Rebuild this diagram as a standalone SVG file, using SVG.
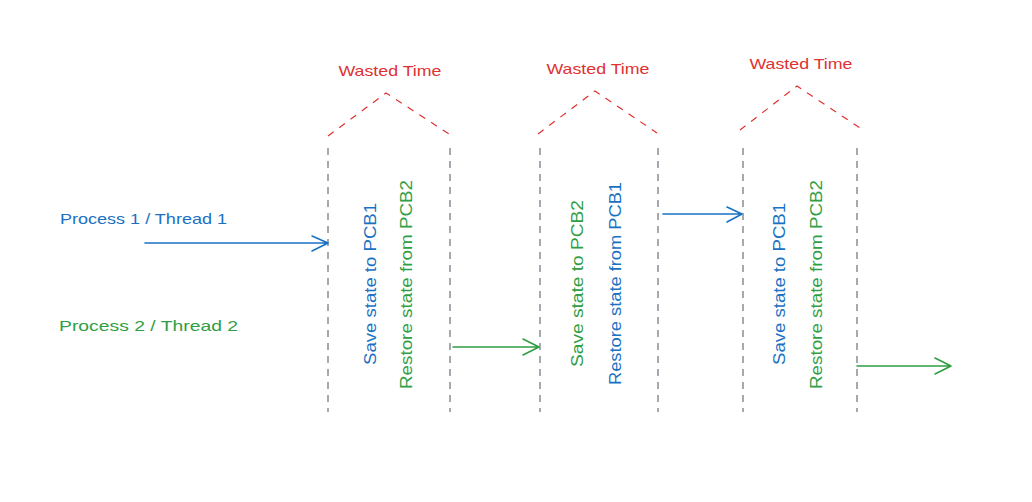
<svg xmlns="http://www.w3.org/2000/svg" width="1032" height="502" viewBox="0 0 1032 502">
<style>
  text { font-family: "Liberation Sans", Arial, sans-serif; }
  .blue { fill: #1971c2; }
  .green { fill: #2f9e44; }
  .red { fill: #e03131; }
  .lbl { font-size: 15px; }
  .vt { font-size: 16px; }
  .wall { stroke: #868e96; stroke-width: 1.5; stroke-dasharray: 7 6; fill: none; }
  .roof { stroke: #e03131; stroke-width: 1.2; stroke-dasharray: 7 7; fill: none; }
  .ab { stroke: #1971c2; stroke-width: 1.6; fill: none; stroke-linecap: round; stroke-linejoin: round; }
  .ag { stroke: #2f9e44; stroke-width: 1.6; fill: none; stroke-linecap: round; stroke-linejoin: round; }
</style>
<rect width="1032" height="502" fill="#ffffff"/>

<g id="labels">
  <text class="blue lbl" x="60" y="224" textLength="167" lengthAdjust="spacingAndGlyphs">Process 1 / Thread 1</text>
  <text class="green lbl" x="59" y="331" textLength="179" lengthAdjust="spacingAndGlyphs">Process 2 / Thread 2</text>
</g>

<g id="switch1">
  <text class="red lbl" x="390" y="76" text-anchor="middle" textLength="103" lengthAdjust="spacingAndGlyphs">Wasted Time</text>
  <polyline class="roof" points="328,136 386,93 449,134"/>
  <line class="wall" x1="328" y1="148" x2="328" y2="412"/>
  <line class="wall" x1="450" y1="148" x2="450" y2="412"/>
  <text class="blue vt" transform="translate(376,365) rotate(-90)" textLength="162" lengthAdjust="spacingAndGlyphs">Save state to PCB1</text>
  <text class="green vt" transform="translate(412,389) rotate(-90)" textLength="209" lengthAdjust="spacingAndGlyphs">Restore state from PCB2</text>
</g>

<g id="switch2">
  <text class="red lbl" x="598" y="74" text-anchor="middle" textLength="103" lengthAdjust="spacingAndGlyphs">Wasted Time</text>
  <polyline class="roof" points="538,134 595,91 657,133"/>
  <line class="wall" x1="540" y1="148" x2="540" y2="412"/>
  <line class="wall" x1="658" y1="148" x2="658" y2="412"/>
  <text class="green vt" transform="translate(583,367) rotate(-90)" textLength="167" lengthAdjust="spacingAndGlyphs">Save state to PCB2</text>
  <text class="blue vt" transform="translate(621,385) rotate(-90)" textLength="203" lengthAdjust="spacingAndGlyphs">Restore state from PCB1</text>
</g>

<g id="switch3">
  <text class="red lbl" x="801" y="69" text-anchor="middle" textLength="103" lengthAdjust="spacingAndGlyphs">Wasted Time</text>
  <polyline class="roof" points="740,130 797,86 860,128"/>
  <line class="wall" x1="743" y1="148" x2="743" y2="412"/>
  <line class="wall" x1="857" y1="148" x2="857" y2="412"/>
  <text class="blue vt" transform="translate(785,365) rotate(-90)" textLength="162" lengthAdjust="spacingAndGlyphs">Save state to PCB1</text>
  <text class="green vt" transform="translate(822,389) rotate(-90)" textLength="209" lengthAdjust="spacingAndGlyphs">Restore state from PCB2</text>
</g>

<g id="connectors">
  <path class="ab" d="M145,243 L328,243 M312,236 L328,243 L312,251"/>
  <path class="ag" d="M453,347 L539,347 M523,339 L539,347 L523,355"/>
  <path class="ab" d="M663,214 L742,214 M727,207 L742,214 L727,222"/>
  <path class="ag" d="M857,366 L951,366 M935,358 L951,366 L935,374"/>
</g>
</svg>
